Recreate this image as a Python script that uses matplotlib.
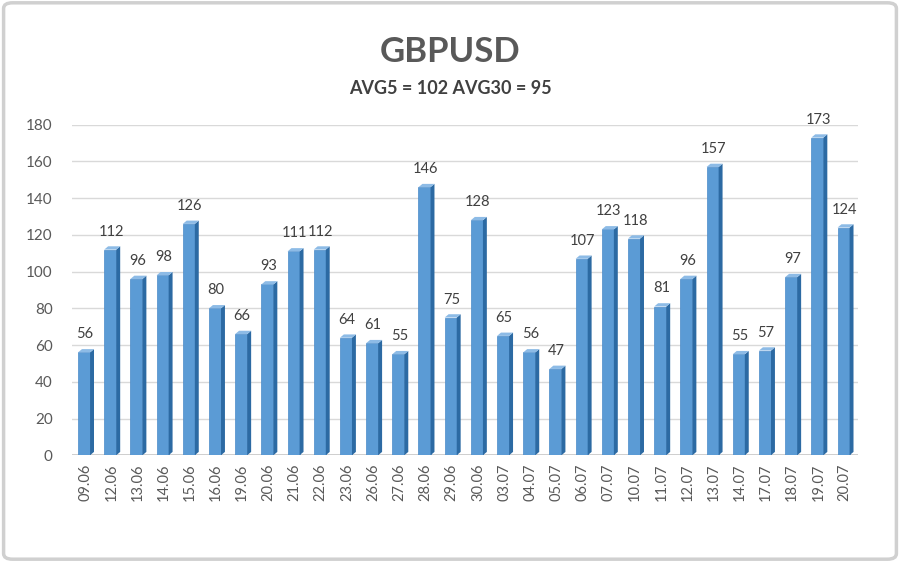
import matplotlib.pyplot as plt
from matplotlib.patches import Polygon, FancyBboxPatch
import numpy as np

dates = ["09.06", "12.06", "13.06", "14.06", "15.06", "16.06", "19.06", "20.06",
         "21.06", "22.06", "23.06", "26.06", "27.06", "28.06", "29.06", "30.06",
         "03.07", "04.07", "05.07", "06.07", "07.07", "10.07", "11.07", "12.07",
         "13.07", "14.07", "17.07", "18.07", "19.07", "20.07"]
values = [56, 112, 96, 98, 126, 80, 66, 93, 111, 112, 64, 61, 55, 146, 75, 128,
          65, 56, 47, 107, 123, 118, 81, 96, 157, 55, 57, 97, 173, 124]
title = "GBPUSD"
subtitle = "AVG5 = 102 AVG30 = 95"

plt.rcParams["font.family"] = ["Lato", "DejaVu Sans"]
TXT = "#595959"

fig = plt.figure(figsize=(9, 5.62), dpi=100)
fig.patches.append(FancyBboxPatch((0.004, 0.005), 0.992, 0.99, boxstyle="round,pad=0,rounding_size=0.01",
                                  transform=fig.transFigure, fill=False, ec="#d0d0d0", lw=2.5))
ax = fig.add_axes([0.080, 0.190, 0.873, 0.588])

x = np.arange(len(values))
w = 0.46
depth = 0.15
dy = 1.8

# front faces
ax.bar(x - 0.04, values, width=w, color="#5b9bd5", edgecolor="#4a8ac8", lw=0.5, zorder=3)
# side faces and tops
for xi, v in zip(x, values):
    r = xi - 0.04 + w / 2
    l = xi - 0.04 - w / 2
    ax.add_patch(Polygon([(r, 0), (r + depth, dy), (r + depth, v + dy), (r, v)],
                         closed=True, fc="#2c6aa3", ec="none", zorder=3))
    ax.add_patch(Polygon([(l, v), (l + depth, v + dy), (r + depth, v + dy), (r, v)],
                         closed=True, fc="#8dbbe6", ec="none", zorder=3))
    ax.text(xi, v + 6, str(v), ha="center", va="bottom", fontsize=10.5, color="#404040", zorder=4)

ax.set_xlim(-0.5, len(values) - 0.5)
ax.set_ylim(0, 180)
ax.set_yticks(range(0, 181, 20))
ax.set_xticks(x)
ax.set_xticklabels(dates, rotation=90, fontsize=10.5, color=TXT)
ax.tick_params(axis="y", labelsize=11, colors=TXT, length=0, pad=14)
ax.tick_params(axis="x", length=0, pad=6)
ax.yaxis.grid(True, color="#d9d9d9", lw=1)
ax.set_axisbelow(True)
for s in ax.spines.values():
    s.set_visible(False)
ax.axhline(0, color="#c8c8c8", lw=1.2, zorder=2)

fig.text(0.5, 0.908, title, ha="center", va="center", fontsize=25, fontweight="bold", color=TXT)
fig.text(0.5, 0.843, subtitle, ha="center", va="center", fontsize=13, fontweight="bold", color="#404040")

fig.savefig("out.png", dpi=100)
